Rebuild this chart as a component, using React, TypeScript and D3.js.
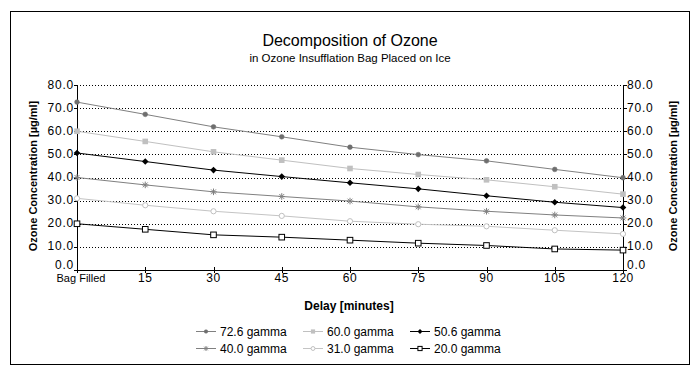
import React from "react";
import * as d3 from "d3";

const categories = ["Bag Filled", "15", "30", "45", "60", "75", "90", "105", "120"];
const delays = [0, 15, 30, 45, 60, 75, 90, 105, 120];
const yTicks = [0, 10, 20, 30, 40, 50, 60, 70, 80];

const s726 = [72.6, 67.3, 61.9, 57.6, 53.1, 49.9, 47.2, 43.5, 39.9];
const s600 = [60.0, 55.6, 51.1, 47.5, 43.9, 41.3, 39.0, 36.0, 32.8];
const s506 = [50.6, 46.9, 43.2, 40.4, 37.7, 35.1, 32.1, 29.3, 27.0];
const s400 = [40.0, 36.8, 33.8, 31.8, 29.8, 27.3, 25.4, 23.8, 22.5];
const s310 = [31.0, 28.0, 25.4, 23.4, 21.1, 19.8, 18.9, 17.2, 15.6];
const s200 = [20.0, 17.6, 15.2, 14.2, 12.9, 11.6, 10.6, 9.1, 8.6];

const seriesNames = ["72.6 gamma", "60.0 gamma", "50.6 gamma", "40.0 gamma", "31.0 gamma", "20.0 gamma"];

type Marker = "circle" | "square" | "diamond" | "star" | "ocircle" | "osquare";
const styles: { line: string; marker: Marker; mk: string }[] = [
  { line: "#808080", marker: "circle", mk: "#6e6e6e" },
  { line: "#c0c0c0", marker: "square", mk: "#c0c0c0" },
  { line: "#000000", marker: "diamond", mk: "#000000" },
  { line: "#808080", marker: "star", mk: "#808080" },
  { line: "#c4c4c4", marker: "ocircle", mk: "#c0c0c0" },
  { line: "#000000", marker: "osquare", mk: "#000000" },
];

const FONT = "'Liberation Sans', Arial, sans-serif";

function MarkerShape({ type, x, y, c, k = 1 }: { type: Marker; x: number; y: number; c: string; k?: number }) {
  switch (type) {
    case "circle":
      return <circle cx={x} cy={y} r={2.4 * k} fill={c} stroke={c} strokeWidth={0.5} />;
    case "square":
      return <rect x={x - 2.8 * k} y={y - 2.8 * k} width={5.6 * k} height={5.6 * k} fill={c} />;
    case "diamond":
      return <path d={`M${x},${y - 3.3 * k}L${x + 3.3 * k},${y}L${x},${y + 3.3 * k}L${x - 3.3 * k},${y}Z`} fill={c} />;
    case "star":
      return (
        <g stroke={c} strokeWidth={1}>
          <line x1={x - 3.3 * k} y1={y} x2={x + 3.3 * k} y2={y} />
          <line x1={x} y1={y - 3.3 * k} x2={x} y2={y + 3.3 * k} />
          <line x1={x - 2.4 * k} y1={y - 2.4 * k} x2={x + 2.4 * k} y2={y + 2.4 * k} />
          <line x1={x - 2.4 * k} y1={y + 2.4 * k} x2={x + 2.4 * k} y2={y - 2.4 * k} />
        </g>
      );
    case "ocircle":
      return <circle cx={x} cy={y} r={2.6 * k} fill="#fff" stroke={c} strokeWidth={1} />;
    case "osquare":
      return <rect x={x - 2.8 * k} y={y - 2.8 * k} width={5.6 * k} height={5.6 * k} fill="#fff" stroke={c} strokeWidth={1} />;
  }
  return null;
}

export default function App() {
  const W = 700, H = 376;
  const x = d3.scaleLinear().domain([0, 120]).range([77, 623]);
  const y = d3.scaleLinear().domain([0, 80]).range([270, 85]);
  const all = [s726, s600, s506, s400, s310, s200];
  const line = d3
    .line<number>()
    .x((_, i) => x(delays[i]))
    .y((d) => y(d));

  const legendCols = [200, 307, 414];
  const legendRows = [331, 348];

  return (
    <svg width={W} height={H} style={{ position: "absolute", left: 0, top: 0, background: "#fff" }} fontFamily={FONT}>
      <rect x={0} y={0} width={W} height={H} fill="#fff" />
      <rect x={10.5} y={11.5} width={679} height={353} fill="none" stroke="#000" strokeWidth={1} />
      <text x={350} y={46} textAnchor="middle" fontSize={16} fill="#000">Decomposition of Ozone</text>
      <text x={350} y={62} textAnchor="middle" fontSize={11.5} fill="#000">in Ozone Insufflation Bag Placed on Ice</text>

      {/* gridlines */}
      {yTicks.filter((t) => t > 0).map((t) => (
        <line key={t} x1={77} x2={623} y1={Math.round(y(t)) + 0.5} y2={Math.round(y(t)) + 0.5} stroke="#000" strokeDasharray="1,2" strokeWidth={1} />
      ))}

      {/* axes */}
      <line x1={77.5} x2={77.5} y1={85} y2={270} stroke="#000" />
      <line x1={623.5} x2={623.5} y1={85} y2={270} stroke="#000" />
      <line x1={77} x2={624} y1={270.5} y2={270.5} stroke="#000" />

      {yTicks.map((t) => (
        <g key={t}>
          <line x1={74} x2={78} y1={Math.round(y(t)) + 0.5} y2={Math.round(y(t)) + 0.5} stroke="#000" />
          <line x1={623} x2={627} y1={Math.round(y(t)) + 0.5} y2={Math.round(y(t)) + 0.5} stroke="#000" />
          <text x={74} y={y(t) + (t === 0 ? -1 : 3.5)} textAnchor="end" fontSize={12} letterSpacing={0.8}>{t.toFixed(1)}</text>
          <text x={627} y={y(t) + (t === 0 ? -1 : 3.5)} textAnchor="start" fontSize={12} letterSpacing={0.8}>{t.toFixed(1)}</text>
        </g>
      ))}

      {delays.map((d, i) => (
        <g key={d}>
          <line x1={Math.round(x(d)) + 0.5} x2={Math.round(x(d)) + 0.5} y1={267} y2={273} stroke="#000" />
          <text x={x(d) + (i === 0 ? 4 : 0)} y={282} textAnchor="middle" fontSize={i === 0 ? 11 : 12} letterSpacing={i === 0 ? 0 : 0.5}>{categories[i]}</text>
        </g>
      ))}

      <text x={349} y={310} textAnchor="middle" fontSize={12} fontWeight="bold">Delay [minutes]</text>
      <text transform={`translate(37,176) rotate(-90)`} textAnchor="middle" fontSize={11} fontWeight="bold">Ozone Concentration [µg/ml]</text>
      <text transform={`translate(677,176) rotate(-90)`} textAnchor="middle" fontSize={11} fontWeight="bold">Ozone Concentration [µg/ml]</text>

      {/* series */}
      {all.map((s, si) => (
        <g key={si}>
          <path d={line(s) || ""} fill="none" stroke={styles[si].line} strokeWidth={1} />
          {s.map((v, i) => (
            <MarkerShape key={i} type={styles[si].marker} x={x(delays[i])} y={y(v)} c={styles[si].mk} />
          ))}
        </g>
      ))}

      {/* legend */}
      {seriesNames.map((n, i) => {
        const cx = legendCols[i % 3];
        const cy = legendRows[Math.floor(i / 3)];
        return (
          <g key={n}>
            <line x1={cx - 4} x2={cx + 16} y1={cy + 0.5} y2={cy + 0.5} stroke={styles[i].line} />
            <MarkerShape type={styles[i].marker} x={cx + 6} y={cy + 0.5} c={styles[i].mk} k={0.75} />
            <text x={cx + 20} y={cy + 4.5} fontSize={12}>{n}</text>
          </g>
        );
      })}
    </svg>
  );
}
